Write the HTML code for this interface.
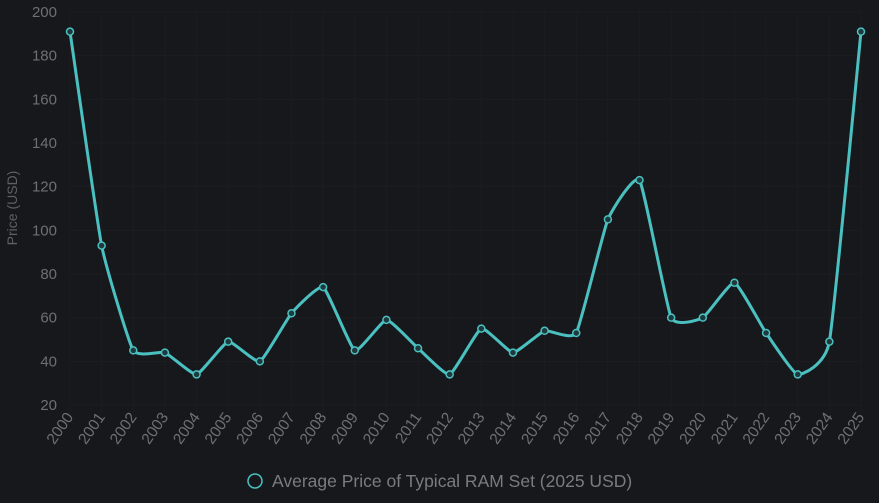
<!DOCTYPE html>
<html><head><meta charset="utf-8"><style>
html,body{margin:0;padding:0;background:#17181c;}
svg{display:block;font-family:"Liberation Sans",sans-serif;}
</style></head><body>
<svg id="chart" width="879" height="503">
<rect width="879" height="503" fill="#17181c"/>
<g id="grid"></g><g id="yticks"></g><g id="xticks"></g>
<text x="17" y="208" fill="#5f6064" font-size="14" text-anchor="middle" transform="rotate(-90 17 208)">Price (USD)</text>
<path id="line" fill="none" stroke="#4bc0c0" stroke-width="3"/>
<g id="points"></g>
<g>
<circle cx="255" cy="481" r="7" fill="none" stroke="#4bc0c0" stroke-width="1.5"/>
<text x="272" y="487" fill="#7a7b80" font-size="17.5">Average Price of Typical RAM Set (2025 USD)</text>
</g>
</svg>
<script>
const years=[2000,2001,2002,2003,2004,2005,2006,2007,2008,2009,2010,2011,2012,2013,2014,2015,2016,2017,2018,2019,2020,2021,2022,2023,2024,2025];
const prices=[191,93,45,44,34,49,40,62,74,45,59,46,34,55,44,54,53,105,123,60,60,76,53,34,49,191];
const yTicks=[20,40,60,80,100,120,140,160,180,200];
const NS="http://www.w3.org/2000/svg";
const x0=70,x1=861,yTop=12,yBot=405,yMin=20,yMax=200;
const xs=i=>x0+i*(x1-x0)/(years.length-1);
const ys=v=>yBot-(v-yMin)/(yMax-yMin)*(yBot-yTop);
function mk(t,a,p){const e=document.createElementNS(NS,t);for(const k in a)e.setAttribute(k,a[k]);p.appendChild(e);return e;}
const grid=document.getElementById('grid'),yt=document.getElementById('yticks'),xt=document.getElementById('xticks');
yTicks.forEach(v=>{
 const l=mk('line',{x1:x0,x2:x1,y1:ys(v),y2:ys(v),stroke:'#1c1d21','stroke-width':1},grid);
 
 
 const t=mk('text',{x:57,y:ys(v)+5,fill:'#6e6f73','font-size':15,'text-anchor':'end'},yt);
 t.textContent=v;
 
 
});
years.forEach((yr,i)=>{
 const l=mk('line',{x1:xs(i),x2:xs(i),y1:yTop,y2:yBot+8,stroke:'#1c1d21','stroke-width':1},grid);
 
 
 const x=xs(i)+4,y=yBot+12;
 const t=mk('text',{x:x,y:y,fill:'#6e6f73','font-size':15.5,'text-anchor':'end',transform:`rotate(-55 ${x} ${y})`},xt);
 t.textContent=yr;
 
 
});
const P=prices.map((v,i)=>[xs(i),ys(v)]);
let d=`M${P[0][0]},${P[0][1]}`;const k=0.07;
for(let i=0;i<P.length-1;i++){
 const p0=P[i-1]||P[i],p1=P[i],p2=P[i+1],p3=P[i+2]||p2;
 const c1=[p1[0]+(p2[0]-p0[0])*k,p1[1]+(p2[1]-p0[1])*k];
 const c2=[p2[0]-(p3[0]-p1[0])*k,p2[1]-(p3[1]-p1[1])*k];
 d+=` C${c1[0]},${c1[1]} ${c2[0]},${c2[1]} ${p2[0]},${p2[1]}`;
}
document.getElementById('line').setAttribute('d',d);
const pts=document.getElementById('points');
P.forEach(p=>{
 const c=mk('circle',{cx:p[0],cy:p[1],r:3.5,fill:'#1f3a3c',stroke:'#4bc0c0','stroke-width':1.5},pts);
 
 
});
</script>
</body></html>
